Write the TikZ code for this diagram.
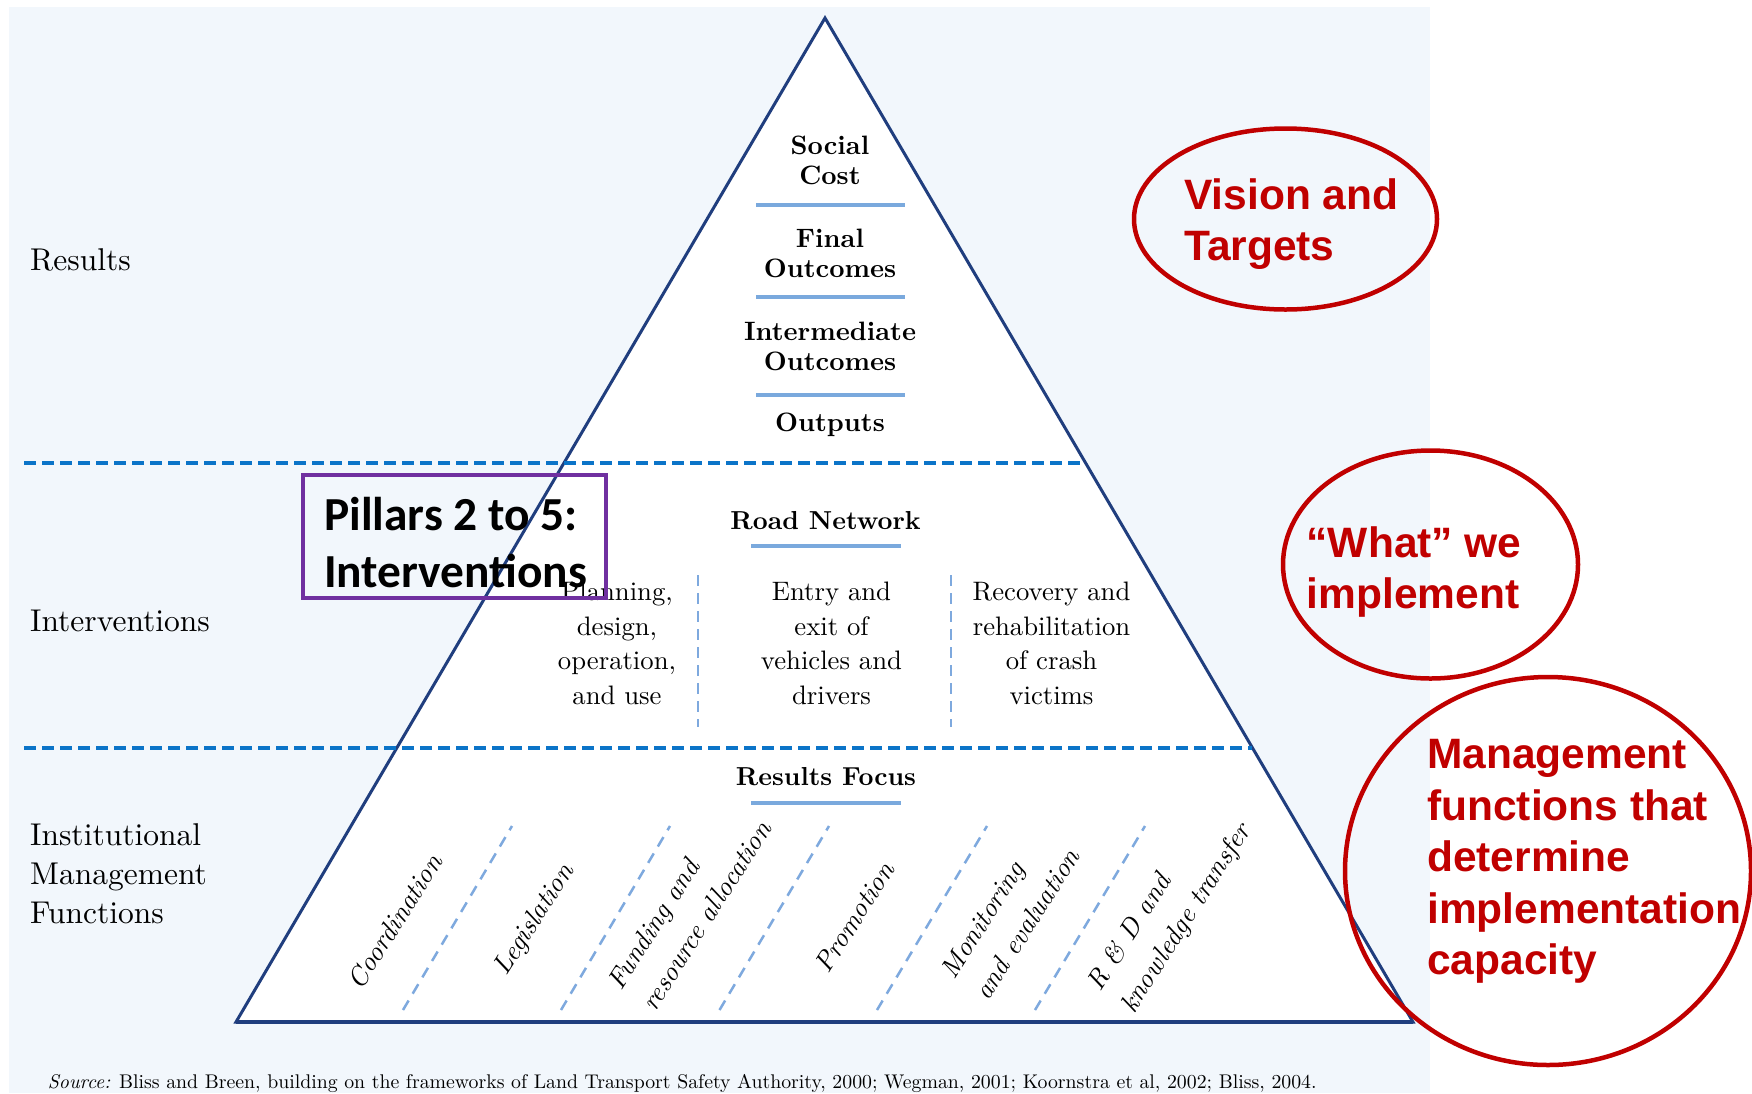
\documentclass[tikz,border=0pt]{standalone}
\usepackage{fontspec}
\setmainfont{lmroman10}[Extension=.otf, UprightFont=*-regular, BoldFont=*-bold, ItalicFont=*-italic, BoldItalicFont=*-bolditalic]
\newfontfamily\arialfont{Liberation Sans}
\newfontfamily\calfont{Carlito}
\usetikzlibrary{shapes.geometric}
\definecolor{bgblue}{HTML}{F2F7FC}
\definecolor{navy}{HTML}{203E7E}
\definecolor{sepblue}{HTML}{0B74C8}
\definecolor{barblue}{HTML}{7AA9DD}
\definecolor{lightdash}{HTML}{7EA9DE}
\definecolor{vred}{HTML}{C00000}
\definecolor{vpurple}{HTML}{7030A0}
\tikzset{
  boldlbl/.style={font=\fontsize{26.6}{30}\bfseries\selectfont, align=center, inner sep=0pt},
  reglbl/.style={font=\fontsize{26.7}{34.5}\selectfont, align=center, inner sep=0pt},
  itlbl/.style={font=\fontsize{27}{40}\itshape\selectfont, align=left, inner sep=0pt, rotate=57.5},
  sidelbl/.style={font=\fontsize{31.5}{39}\selectfont, align=left, anchor=west, inner sep=0pt},
  redtxt/.style={font=\arialfont\bfseries\fontsize{42.5}{51.5}\selectfont, text=vred, align=left, anchor=west, inner sep=0pt},
  redell/.style={ellipse, draw=vred, line width=4.5pt, inner sep=0pt},
  sepdash/.style={draw=sepblue, line width=3.5pt, dash pattern=on 12pt off 6pt},
  bar/.style={draw=barblue, line width=4pt},
  vdash/.style={draw=lightdash, line width=2.2pt, dash pattern=on 11pt off 7pt},
  ddash/.style={draw=lightdash, line width=2.5pt, dash pattern=on 11pt off 8pt},
}
\begin{document}
\begin{tikzpicture}[x=1pt,y=-1pt]
\useasboundingbox (0,0) rectangle (1752,1093);
\fill[bgblue] (9,7) rectangle (1430,1093);
% pyramid
\coordinate (apex) at (825,18);
\coordinate (bl) at (236,1022);
\coordinate (br) at (1413,1022);
\filldraw[fill=white, draw=navy, line width=3pt] (apex) -- (bl) -- (br) -- cycle;
\draw[navy, line width=4pt] (bl) -- (br);
% separators
\coordinate (s1a) at (24,463);
\coordinate (s1b) at (1085,463);
\coordinate (s2a) at (24,748);
\coordinate (s2b) at (1252,748);
\draw[sepdash] (s1a) -- (s1b);
\draw[sepdash] (s2a) -- (s2b);
% results block
\node[boldlbl] (social) at (830,160) {Social\\Cost};
\draw[bar] (756,205) -- (905,205);
\node[boldlbl] (final) at (830,253) {Final\\Outcomes};
\draw[bar] (756,297) -- (905,297);
\node[boldlbl] (inter) at (830,346) {Intermediate\\Outcomes};
\draw[bar] (756,394.5) -- (905,394.5);
\node[boldlbl] (outputs) at (830,425) {Outputs};
% interventions block
\node[boldlbl, font=\fontsize{26}{30}\bfseries\selectfont] (road) at (825.5,521) {Road Network};
\draw[bar] (751,546) -- (901,546);
\node[reglbl] (plan) at (617,643.5) {Planning,\\design,\\operation,\\and use};
\node[reglbl] (entry) at (831.5,643.5) {Entry and\\exit of\\vehicles and\\drivers};
\node[reglbl] (recov) at (1051.5,643.5) {Recovery and\\rehabilitation\\of crash\\victims};
\draw[vdash] (698,575) -- (698,727);
\draw[vdash] (951,575) -- (951,727);
% management block
\node[boldlbl, font=\fontsize{26}{30}\bfseries\selectfont] (focus) at (826,777) {Results Focus};
\draw[bar] (751,803) -- (901,803);
\draw[ddash] (403,1010) -- (512,826);
\draw[ddash] (561,1010) -- (670,826);
\draw[ddash] (719.5,1010) -- (829,826);
\draw[ddash] (877,1010) -- (987,826);
\draw[ddash] (1035,1010) -- (1145,826);
\node[itlbl] (coord) at (394.7,921.7) {Coordination};
\node[itlbl] (legis) at (535,920) {Legislation};
\node[itlbl] (fund) at (689,905) {Funding and\\resource allocation};
\node[itlbl] (promo) at (854.2,917.5) {Promotion};
\node[itlbl] (monit) at (1010,913.5) {Monitoring\\and evaluation};
\node[itlbl] (rnd) at (1170,908) {R \& D and\\knowledge transfer};
% side labels
\node[sidelbl] (lres) at (30,260) {Results};
\node[sidelbl] (lint) at (30,621) {Interventions};
\node[sidelbl] (linst) at (30,874) {Institutional\\Management\\Functions};
% pillars box
\node[draw=vpurple, line width=4pt, minimum width=303pt, minimum height=123pt, inner sep=0pt] (pbox) at (454,536.7) {};
\node[font=\calfont\bfseries\fontsize{47.4}{56.3}\selectfont, align=left, anchor=west, inner sep=0pt] (ptext) at (324,542.5) {Pillars 2 to 5:\\Interventions};
% red ellipses
\node[redell, minimum width=303pt, minimum height=181pt] (e1) at (1285.5,219) {};
\node[redtxt] (t1) at (1184,224) {Vision and\\Targets};
\node[redell, minimum width=295pt, minimum height=228pt] (e2) at (1430.5,564.5) {};
\node[redtxt] (t2) at (1306.5,572) {“What” we\\implement};
\node[redell, minimum width=406pt, minimum height=388pt] (e3) at (1548,871) {};
\node[redtxt] (t3) at (1427,861.5) {Management\\functions that\\determine\\implementation\\capacity};
% source
\node[anchor=base west, inner sep=0pt, font=\fontsize{19.8}{22}\selectfont] (src) at (47.6,1088) {\textit{Source:} Bliss and Breen, building on the frameworks of Land Transport Safety Authority, 2000; Wegman, 2001; Koornstra et al, 2002; Bliss, 2004.};
\end{tikzpicture}
\end{document}
